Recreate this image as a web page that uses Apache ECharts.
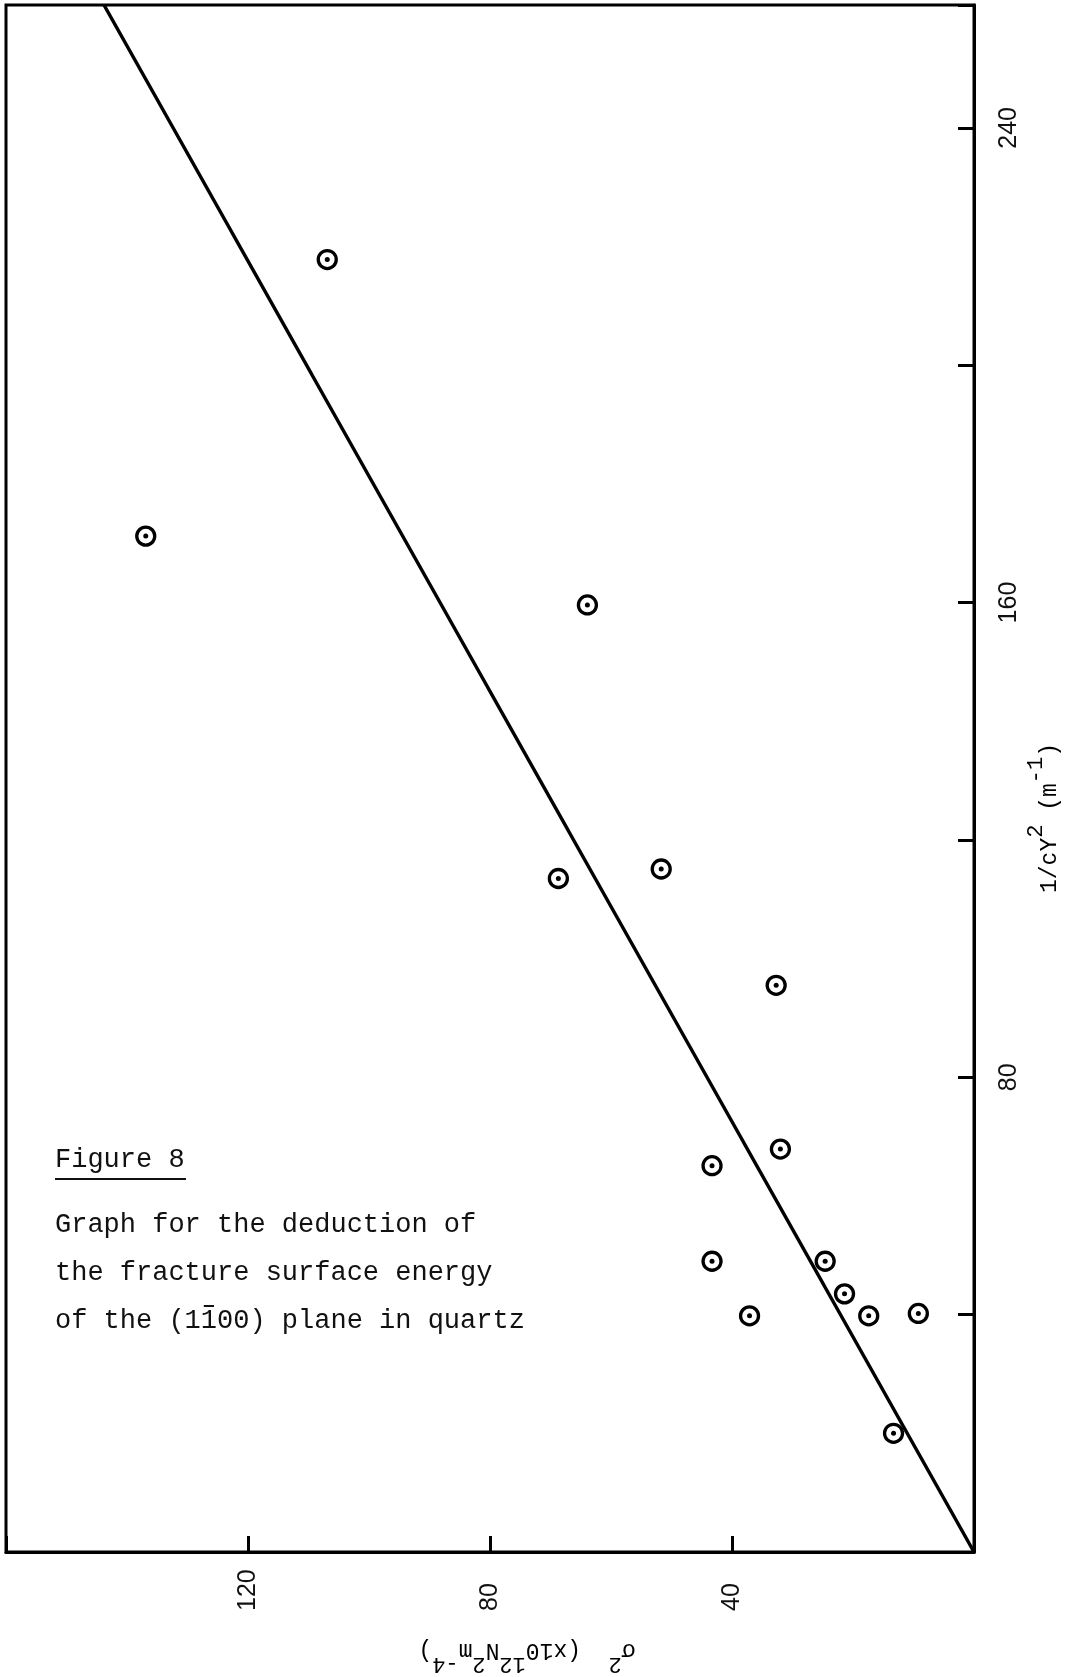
<!DOCTYPE html>
<html>
<head>
<meta charset="utf-8">
<script src="https://cdn.jsdelivr.net/npm/echarts@6/dist/echarts.min.js"></script>
<style>
html,body{margin:0;padding:0;background:#fff;}
#chart{width:1086px;height:1677px;}
</style>
</head>
<body>
<div id="chart"></div>
<script>
// sigma^2 (x10^12 N^2 m^-4) values of each measured point
const sigma2 = [106.9, 136.9, 63.9, 68.7, 51.7, 32.7, 32.0, 43.3, 43.3, 24.6, 37.1, 21.4, 17.4, 9.2, 13.3];
// 1/cY^2 (m^-1) values of each measured point
const invCY2 = [217.8, 171.2, 159.6, 113.5, 115.1, 95.5, 67.9, 65.1, 49.0, 49.0, 39.8, 43.5, 39.8, 40.2, 20.0];
// fitted straight line through the origin
const fitSigma2 = [0, 143.8];
const fitInvCY2 = [0, 260.7];
// tick labels
const xTickLabels = [40, 80, 120];
const yTickLabels = [80, 160, 240];
const captionTitle = "Figure 8";
const captionLines = [
  "Graph for the deduction of",
  "the fracture surface energy",
  "of the (1100) plane in quartz"
];

const points = sigma2.map((s, i) => [s, invCY2[i]]);
const fitLine = fitSigma2.map((s, i) => [s, fitInvCY2[i]]);

const chart = echarts.init(document.getElementById('chart'));
const labelFont = {fontFamily: 'Liberation Sans', fontSize: 25, color: '#111'};
const monoMain = {fontFamily: 'Liberation Mono', fontSize: 23, color: '#111', lineHeight: 50};
const monoSup = {fontFamily: 'Liberation Mono', fontSize: 22, color: '#111', lineHeight: 22, verticalAlign: 'top'};
const charW = 27 * 0.6;

chart.setOption({
  animation: false,
  backgroundColor: '#fff',
  grid: {left: 6, right: 112, top: 5, bottom: 125, show: true, borderColor: '#000', borderWidth: 3},
  xAxis: {
    type: 'value', min: 0, max: 160, interval: 40, inverse: true, position: 'bottom',
    splitLine: {show: false},
    axisLine: {show: true, lineStyle: {color: '#000', width: 3}},
    axisTick: {show: true, inside: true, length: 16, lineStyle: {color: '#000', width: 3}},
    axisLabel: {
      rotate: 90, margin: 59, align: 'left', verticalAlign: 'middle', ...labelFont,
      formatter: v => xTickLabels.includes(v) ? String(v) : ''
    }
  },
  yAxis: {
    type: 'value', min: 0, max: 260.7, interval: 40, position: 'right',
    splitLine: {show: false},
    axisLine: {show: true, lineStyle: {color: '#000', width: 3}},
    axisTick: {show: true, inside: true, length: 16, lineStyle: {color: '#000', width: 3}},
    axisLabel: {
      rotate: 90, margin: 23, align: 'center', verticalAlign: 'top', ...labelFont,
      formatter: v => yTickLabels.includes(v) ? String(v) : ''
    }
  },
  series: [
    {
      type: 'line', data: fitLine, symbol: 'none', clip: true,
      lineStyle: {color: '#000', width: 3.5}, z: 2
    },
    {
      type: 'scatter', data: points, symbol: 'circle', symbolSize: 18,
      itemStyle: {color: '#fff', borderColor: '#000', borderWidth: 3.3, opacity: 1}, z: 3
    },
    {
      type: 'scatter', data: points, symbol: 'circle', symbolSize: 5,
      itemStyle: {color: '#000', opacity: 1}, z: 4, silent: true
    }
  ],
  graphic: [
    {
      type: 'text', x: 527, y: 1650, rotation: Math.PI,
      style: {
        text: '{m|σ}{s|2}{m|  (x10}{s|12}{m|N}{s|2}{m|m}{s|-4}{m|)}',
        rich: {m: monoMain, s: monoSup},
        align: 'center', verticalAlign: 'middle'
      }
    },
    {
      type: 'text', x: 1050, y: 818, rotation: Math.PI / 2,
      style: {
        text: '{m|1/cY}{s|2}{m| (m}{s|-1}{m|)}',
        rich: {m: monoMain, s: monoSup},
        align: 'center', verticalAlign: 'middle'
      }
    },
    {
      type: 'text', x: 55, y: 1160,
      style: {text: captionTitle, font: '27px "Liberation Mono"', fill: '#111', align: 'left', verticalAlign: 'middle'}
    },
    {
      type: 'line', shape: {x1: 55, y1: 1179, x2: 186, y2: 1179},
      style: {stroke: '#111', lineWidth: 2.2}
    },
    ...captionLines.map((t, i) => ({
      type: 'text', x: 55, y: 1225 + i * 48,
      style: {text: t, font: '27px "Liberation Mono"', fill: '#111', align: 'left', verticalAlign: 'middle'}
    })),
    {
      type: 'line', shape: {x1: 55 + 9 * charW + 3, y1: 1306, x2: 55 + 10 * charW - 3, y2: 1306},
      style: {stroke: '#111', lineWidth: 2}
    }
  ]
});
</script>
</body>
</html>
